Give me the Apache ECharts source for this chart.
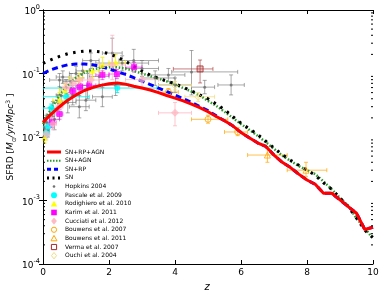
<!DOCTYPE html>
<html><head><meta charset="utf-8">
<script src="https://cdn.jsdelivr.net/npm/echarts@6/dist/echarts.min.js"></script>
<style>html,body{margin:0;padding:0;background:#fff}#c{width:382px;height:298px}</style>
</head><body><div id="c"></div>
<script>
// ---------- model curves ----------
const zGrid = [0,0.25,0.5,0.75,1,1.25,1.5,1.75,2,2.25,2.5,2.75,3,3.25,3.5,3.75,4,4.25,4.5,4.75,5,5.25,5.5,5.75,6,6.25,6.5,6.75,7,7.25,7.5,7.75,8,8.25,8.5,8.75,9,9.25,9.5,9.75,10];
const sfrdSnRpAgn = [0.017,0.023,0.030,0.038,0.046,0.054,0.060,0.065,0.069,0.071,0.068,0.063,0.059,0.055,0.050,0.045,0.041,0.037,0.033,0.029,0.025,0.021,0.018,0.015,0.0118,0.0097,0.0081,0.0071,0.0052,0.0040,0.0033,0.0026,0.0021,0.0018,0.0013,0.0013,0.00102,0.0008,0.00063,0.00035,0.00038];
const sfrdSnAgn = [0.016,0.028,0.045,0.065,0.086,0.103,0.116,0.123,0.126,0.125,0.120,0.110,0.100,0.091,0.083,0.075,0.067,0.059,0.052,0.045,0.037,0.031,0.025,0.020,0.016,0.013,0.0105,0.0083,0.0065,0.0051,0.0042,0.0035,0.0030,0.0026,0.0020,0.0015,0.0011,0.00082,0.00052,0.00037,0.00025];
const sfrdSnRp = [0.100,0.115,0.127,0.137,0.141,0.141,0.137,0.129,0.118,0.107,0.097,0.086,0.076,0.067,0.059,0.052,0.046,0.040,0.035,0.030,0.026,0.0215,0.018,0.015,0.0118,0.0097,0.0081,0.0071,0.0052,0.0040,0.0033,0.0026,0.0021,0.0018,0.0013,0.0013,0.00102,0.0008,0.00063,0.00035,0.00038];
const sfrdSn = [0.145,0.165,0.186,0.205,0.217,0.225,0.226,0.220,0.205,0.182,0.156,0.130,0.110,0.094,0.084,0.076,0.069,0.061,0.053,0.046,0.040,0.033,0.027,0.021,0.0165,0.0135,0.011,0.0086,0.0067,0.0053,0.0043,0.0036,0.0030,0.0025,0.0019,0.0015,0.0011,0.0008,0.00053,0.00034,0.00026];

// ---------- observations: [z, sfrd, zLow, zHigh, sfrdLow, sfrdHigh] ----------
const hopkins2004 = [
 [0.02,0.010,0,0.05,0.008,0.013],[0.05,0.014,0,0.1,0.010,0.019],[0.1,0.017,0.05,0.15,0.013,0.022],
 [0.15,0.013,0.1,0.2,0.010,0.017],[0.2,0.022,0.1,0.3,0.016,0.029],[0.3,0.028,0.2,0.4,0.021,0.036],
 [0.35,0.019,0.2,0.5,0.013,0.026],[0.45,0.035,0.3,0.6,0.026,0.047],[0.5,0.079,0.2,0.8,0.062,0.10],
 [0.55,0.045,0.4,0.7,0.033,0.060],[0.6,0.088,0.4,0.8,0.070,0.11],[0.7,0.060,0.5,0.9,0.045,0.080],
 [0.75,0.035,0.5,1.0,0.024,0.050],[0.85,0.075,0.6,1.1,0.055,0.10],[0.9,0.046,0.7,1.1,0.032,0.065],
 [1.0,0.10,0.8,1.2,0.075,0.13],[1.1,0.030,0.8,1.4,0.020,0.045],[1.2,0.11,1.0,1.4,0.085,0.14],
 [1.3,0.038,1.0,1.6,0.026,0.055],[1.35,0.065,1.0,1.7,0.040,0.10],[1.45,0.16,1.2,1.7,0.12,0.21],
 [1.7,0.09,1.4,2.0,0.065,0.125],[1.8,0.043,1.5,2.1,0.030,0.060],[2.1,0.21,1.8,2.4,0.12,0.36],
 [2.2,0.065,1.8,2.6,0.045,0.09],[2.4,0.146,1.6,3.2,0.11,0.19],[2.75,0.16,2.3,3.5,0.12,0.24],
 [3.0,0.12,2.5,3.5,0.09,0.16],[3.4,0.085,3.0,4.0,0.065,0.11],[3.8,0.095,3.2,4.3,0.075,0.12],
 [4.0,0.066,3.5,4.5,0.050,0.085],[4.5,0.106,3.9,5.9,0.046,0.23],[4.9,0.061,4.5,5.2,0.048,0.078],
 [5.7,0.066,5.3,6.1,0.046,0.095]
];
const pascale2009 = [[0.1,0.0115,0,0.2,0.0097,0.0135],[0.15,0.0145,0,0.3,0.012,0.017],[0.25,0.0285,0,0.5,0.024,0.033],[0.7,0.043,0,1.4,0.037,0.049],[2.25,0.059,0,3.45,0.050,0.068]];
const rodighiero2010 = [[0.05,0.0097,0,0.1,0.008,0.012],[0.5,0.038,0.3,0.7,0.030,0.050],[0.67,0.055,0.5,0.8,0.045,0.068],[1.1,0.085,0.8,1.2,0.070,0.10],[1.5,0.11,1.2,1.7,0.085,0.14],[1.8,0.136,1.7,2.0,0.10,0.18],[2.2,0.15,2.0,2.5,0.11,0.20]];
const karim2011 = [[0.27,0.017,0.2,0.4,0.014,0.020],[0.5,0.023,0.4,0.6,0.019,0.027],[0.9,0.053,0.8,1.0,0.046,0.060],[1.12,0.061,1.0,1.2,0.053,0.070],[1.4,0.065,1.2,1.6,0.056,0.075],[1.8,0.095,1.6,2.0,0.080,0.11],[2.24,0.098,2.0,2.5,0.083,0.115],[2.76,0.126,2.5,3.0,0.105,0.15]];
const cucciati2012 = [[0.1,0.011,0,0.2,0.009,0.014],[0.3,0.016,0.2,0.4,0.013,0.020],[0.5,0.030,0.4,0.6,0.024,0.037],[0.7,0.060,0.6,0.8,0.050,0.072],[0.9,0.070,0.8,1.0,0.058,0.085],[1.1,0.079,1.0,1.2,0.065,0.095],[1.45,0.079,1.2,1.7,0.065,0.097],[2.1,0.136,1.7,2.5,0.08,0.40],[3.0,0.080,2.5,3.5,0.060,0.10],[4.0,0.024,3.5,4.5,0.015,0.035]];
const bouwens2007 = [[3.8,0.051,3.5,4.1,0.045,0.058],[5.0,0.019,4.5,5.6,0.0165,0.022],[5.9,0.012,5.5,6.2,0.0105,0.014]];
const bouwens2011 = [[6.8,0.0052,6.2,7.4,0.0040,0.0070],[7.97,0.0030,7.4,8.6,0.0024,0.0040]];
const verma2007 = [[4.76,0.118,3.95,5.15,0.071,0.163]];
const ouchi2004 = [[4.0,0.065,3.5,4.5,0.055,0.075],[4.7,0.043,4.3,5.2,0.036,0.050]];

const legendNames = ['SN+RP+AGN', 'SN+AGN', 'SN+RP', 'SN', 'Hopkins 2004', 'Pascale et al. 2009',
  'Rodighiero et al. 2010', 'Karim et al. 2011', 'Cucciati et al. 2012', 'Bouwens et al. 2007',
  'Bouwens et al. 2011', 'Verma et al. 2007', 'Ouchi et al. 2004'];

const minorTickVals = [];
for (let e = -4; e < 0; e++) for (let m = 2; m <= 9; m++) minorTickVals.push(m * Math.pow(10, e));

const FONT = 'DejaVu Sans';
const chart = echarts.init(document.getElementById('c'), null, {renderer: 'canvas'});

function errSeries(name, rows, color) {
  return {
    type: 'custom', name: name, data: rows, encode: {x: 0, y: 1}, z: 1, clip: true, silent: true,
    renderItem: function (params, api) {
      const c = api.coord([api.value(0), api.value(1)]);
      const xl = api.coord([api.value(2), api.value(1)])[0];
      const xr = api.coord([api.value(3), api.value(1)])[0];
      const yl = api.coord([api.value(0), api.value(4)])[1];
      const yh = api.coord([api.value(0), api.value(5)])[1];
      const cap = 2;
      const L = [[xl, c[1], xr, c[1]], [c[0], yl, c[0], yh],
        [xl, c[1] - cap, xl, c[1] + cap], [xr, c[1] - cap, xr, c[1] + cap],
        [c[0] - cap, yl, c[0] + cap, yl], [c[0] - cap, yh, c[0] + cap, yh]];
      return {type: 'group', children: L.map(l => ({type: 'line', shape: {x1: l[0], y1: l[1], x2: l[2], y2: l[3]}, style: {stroke: color, lineWidth: 1}}))};
    }
  };
}
function ptSeries(name, rows, symbol, size, itemStyle) {
  return {type: 'scatter', name: name, data: rows, encode: {x: 0, y: 1}, symbol: symbol, symbolSize: size, itemStyle: itemStyle, z: 3, silent: true};
}
function lineSeries(name, vals, color, width, type) {
  return {type: 'line', name: name, data: zGrid.map((z, i) => [z, vals[i]]), symbol: 'none', z: 2, silent: true,
    lineStyle: {color: color, width: width, type: type}, itemStyle: {color: color}};
}
const supLabel = v => '{b|10}{s|' + Math.round(Math.log10(v)) + '}';

// ---------- legend drawn as graphic elements ----------
const LX0 = 47, LX1 = 61, LXC = 54, LTX = 65, LY0 = 152, LDY = 8.64;
const legendKeys = [
  {line: {stroke: '#ff0000', lineWidth: 3}},
  {line: {stroke: '#2a9a2a', lineWidth: 2, lineDash: [1.5, 1.5]}},
  {line: {stroke: '#0000ff', lineWidth: 3, lineDash: [4, 3]}},
  {line: {stroke: '#000000', lineWidth: 3, lineDash: [2, 3.5]}},
  {sym: 'circle', r: 1.3, style: {fill: '#707070'}},
  {sym: 'circle', r: 3, style: {fill: '#00ffff'}},
  {sym: 'triangle', r: 3.2, style: {fill: '#ffff00'}},
  {sym: 'rect', r: 2.8, style: {fill: '#ff00ff'}},
  {sym: 'diamond', r: 3.6, style: {fill: 'rgba(255,182,193,0.95)'}},
  {sym: 'circle', r: 2.6, style: {fill: 'none', stroke: '#ffa500', lineWidth: 1}},
  {sym: 'triangle', r: 3, style: {fill: 'none', stroke: '#ffa500', lineWidth: 1}},
  {sym: 'rect', r: 2.6, style: {fill: 'none', stroke: '#a52a2a', lineWidth: 1}},
  {sym: 'diamond', r: 3.2, style: {fill: 'none', stroke: '#f0dc82', lineWidth: 1}}
];
const legendGraphics = [];
legendNames.forEach((name, i) => {
  const y = LY0 + i * LDY;
  const k = legendKeys[i];
  if (k.line) {
    legendGraphics.push({type: 'line', silent: true, shape: {x1: LX0, y1: y, x2: LX1, y2: y}, style: k.line});
  } else if (k.sym === 'circle') {
    legendGraphics.push({type: 'circle', silent: true, shape: {cx: LXC, cy: y, r: k.r}, style: k.style});
  } else if (k.sym === 'rect') {
    legendGraphics.push({type: 'rect', silent: true, shape: {x: LXC - k.r, y: y - k.r, width: 2 * k.r, height: 2 * k.r}, style: k.style});
  } else if (k.sym === 'triangle') {
    legendGraphics.push({type: 'polygon', silent: true, shape: {points: [[LXC, y - k.r], [LXC + k.r, y + k.r * 0.8], [LXC - k.r, y + k.r * 0.8]]}, style: k.style});
  } else if (k.sym === 'diamond') {
    legendGraphics.push({type: 'polygon', silent: true, shape: {points: [[LXC, y - k.r], [LXC + k.r * 0.8, y], [LXC, y + k.r], [LXC - k.r * 0.8, y]]}, style: k.style});
  }
  legendGraphics.push({type: 'text', silent: true, x: LTX, y: y,
    style: {text: name, fontFamily: FONT, fontSize: 6, fill: '#000', align: 'left', verticalAlign: 'middle'}});
});

chart.setOption({
  animation: false,
  grid: {left: 43, right: 9, top: 10, bottom: 34},
  xAxis: [
    {type: 'value', min: 0, max: 10, interval: 2, position: 'bottom',
     axisLine: {show: true, lineStyle: {color: '#000', width: 1}}, axisTick: {inside: true, length: 4, lineStyle: {color: '#000'}},
     axisLabel: {fontFamily: FONT, fontSize: 9, color: '#000', margin: 4}, splitLine: {show: false}},
    {type: 'value', min: 0, max: 10, interval: 2, position: 'top',
     axisLine: {show: true, lineStyle: {color: '#000', width: 1}}, axisTick: {inside: true, length: 4, lineStyle: {color: '#000'}},
     axisLabel: {show: false}, splitLine: {show: false}}
  ],
  yAxis: [
    {type: 'log', logBase: 10, min: 1e-4, max: 1, position: 'left',
     axisLine: {show: true, lineStyle: {color: '#000', width: 1}}, axisTick: {inside: true, length: 4, lineStyle: {color: '#000'}},
     axisLabel: {formatter: supLabel, margin: 3, rich: {
       b: {fontFamily: FONT, fontSize: 9, color: '#000', lineHeight: 13, verticalAlign: 'bottom'},
       s: {fontFamily: FONT, fontSize: 6.5, color: '#000', lineHeight: 8, verticalAlign: 'top'}}},
     splitLine: {show: false}},
    {type: 'log', logBase: 10, min: 1e-4, max: 1, position: 'right',
     axisLine: {show: true, lineStyle: {color: '#000', width: 1}}, axisTick: {inside: true, length: 4, lineStyle: {color: '#000'}},
     axisLabel: {show: false}, splitLine: {show: false}}
  ],
  graphic: [
    {type: 'text', x: 11, y: 137, rotation: Math.PI / 2, silent: true,
     style: {text: '{a|SFRD [}{i|M}{d|⊙}{i|/yr/Mpc}{u|3}{a| ]}', align: 'center', verticalAlign: 'middle',
       rich: {a: {fontFamily: FONT, fontSize: 9, lineHeight: 12, verticalAlign: 'middle'},
              i: {fontFamily: FONT, fontSize: 9, fontStyle: 'italic', lineHeight: 12, verticalAlign: 'middle'},
              d: {fontFamily: FONT, fontSize: 6, lineHeight: 12, verticalAlign: 'bottom'},
              u: {fontFamily: FONT, fontSize: 6, lineHeight: 12, verticalAlign: 'top'}}}},
    {type: 'text', x: 207, y: 287, silent: true,
     style: {text: 'z', fontFamily: FONT, fontSize: 10, fontStyle: 'italic', align: 'center', verticalAlign: 'middle', fill: '#000'}}
  ].concat(legendGraphics),
  series: [
    {type: 'custom', name: 'minorTicks', data: minorTickVals.map(v => [0, v]), encode: {x: 0, y: 1}, silent: true, z: 5,
     renderItem: function (params, api) {
       const l = api.coord([0, api.value(1)]);
       const r = api.coord([10, api.value(1)]);
       return {type: 'group', children: [
         {type: 'line', shape: {x1: l[0], y1: l[1], x2: l[0] + 2, y2: l[1]}, style: {stroke: '#000', lineWidth: 1}},
         {type: 'line', shape: {x1: r[0], y1: r[1], x2: r[0] - 2, y2: r[1]}, style: {stroke: '#000', lineWidth: 1}}]};
     }},
    errSeries('e1', hopkins2004, 'rgba(110,110,110,0.6)'),
    errSeries('e2', pascale2009, 'rgba(0,230,230,0.8)'),
    errSeries('e3', rodighiero2010, 'rgba(240,240,0,0.8)'),
    errSeries('e4', karim2011, 'rgba(255,0,255,0.6)'),
    errSeries('e5', cucciati2012, 'rgba(255,182,193,0.8)'),
    errSeries('e6', bouwens2007, 'rgba(255,165,0,0.7)'),
    errSeries('e7', bouwens2011, 'rgba(255,165,0,0.7)'),
    errSeries('e8', verma2007, 'rgba(165,42,42,0.6)'),
    errSeries('e9', ouchi2004, 'rgba(240,220,130,0.8)'),
    lineSeries('SN+AGN', sfrdSnAgn, '#2a9a2a', 2.5, [1.5, 1.8]),
    lineSeries('SN', sfrdSn, '#000000', 3, [2.5, 5.5]),
    lineSeries('SN+RP', sfrdSnRp, '#0000ff', 3, [6, 4]),
    Object.assign(lineSeries('SN+RP+AGN', sfrdSnRpAgn, '#ff0000', 3, 'solid'), {z: 4}),
    ptSeries('Hopkins 2004', hopkins2004, 'circle', 3, {color: '#707070'}),
    ptSeries('Pascale et al. 2009', pascale2009, 'circle', 6, {color: '#00ffff'}),
    ptSeries('Rodighiero et al. 2010', rodighiero2010, 'triangle', 6, {color: '#ffff00'}),
    ptSeries('Karim et al. 2011', karim2011, 'rect', 6, {color: '#ff00ff'}),
    ptSeries('Cucciati et al. 2012', cucciati2012, 'diamond', 8, {color: 'rgba(255,182,193,0.9)'}),
    ptSeries('Bouwens et al. 2007', bouwens2007, 'circle', 6, {color: 'rgba(0,0,0,0)', borderColor: '#ffa500', borderWidth: 1}),
    ptSeries('Bouwens et al. 2011', bouwens2011, 'triangle', 6, {color: 'rgba(0,0,0,0)', borderColor: '#ffa500', borderWidth: 1}),
    ptSeries('Verma et al. 2007', verma2007, 'rect', 6, {color: 'rgba(165,42,42,0.35)', borderColor: '#a52a2a', borderWidth: 1}),
    ptSeries('Ouchi et al. 2004', ouchi2004, 'diamond', 7, {color: 'rgba(0,0,0,0)', borderColor: '#f0dc82', borderWidth: 1})
  ]
});
</script>
</body></html>
